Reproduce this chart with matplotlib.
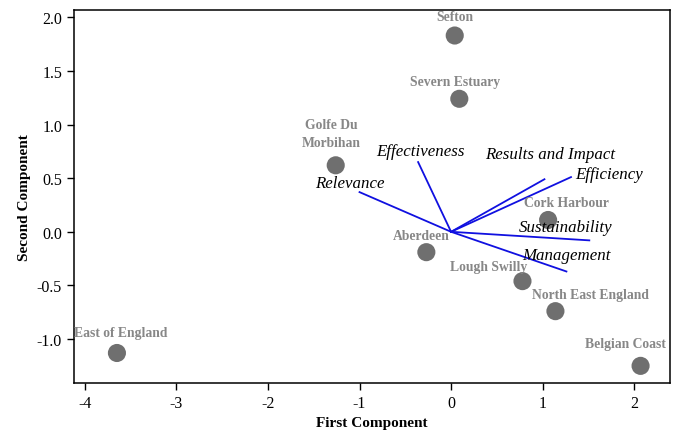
import numpy as np
import matplotlib
matplotlib.use("Agg")
import matplotlib.pyplot as plt

# Site scores (first and second component)
sites = ["Sefton", "Severn Estuary", "Golfe Du\nMorbihan", "Cork Harbour", "Aberdeen",
         "Lough Swilly", "North East England", "Belgian Coast", "East of England"]
pc1 = [0.04, 0.09, -1.26, 1.06, -0.27, 0.78, 1.14, 2.07, -3.65]
pc2 = [1.83, 1.24, 0.62, 0.11, -0.19, -0.46, -0.74, -1.25, -1.13]

# Criteria loadings (vectors from origin)
criteria = ["Relevance", "Effectiveness", "Results and Impact", "Efficiency",
            "Sustainability", "Management"]
load1 = [-1.00, -0.36, 1.02, 1.31, 1.51, 1.26]
load2 = [0.37, 0.65, 0.49, 0.51, -0.08, -0.37]

# label offsets in pixels (text position relative to the mark)
site_off = [(0, 19), (-4, 17), (-4, 32), (18, 17), (-5, 17),
            (-34, 15), (35, 17), (-15, 22), (4, 20)]
crit_off = [(-10, 9, "center"), (2, 11, "center"), (6, 25, "center"), (4, 3, "left"),
            (-24, 13, "center"), (0, 16, "center")]

plt.rcParams["font.family"] = ["Liberation Serif", "DejaVu Serif"]

fig = plt.figure(figsize=(6.78, 4.31), dpi=100)
ax = fig.add_axes([0.109, 0.109, 0.879, 0.866])

for x, y in zip(load1, load2):
    ax.plot([0, x], [0, y], color="#1010e0", lw=1.3, zorder=2)

ax.scatter(pc1, pc2, s=170, color="#6f6f6f", zorder=3, edgecolors="none")

for name, x, y, (dx, dy) in zip(sites, pc1, pc2, site_off):
    ax.annotate(name, (x, y), xytext=(dx, dy), textcoords="offset pixels",
                ha="center", va="center", fontsize=9.8, fontweight="bold",
                color="#878787", linespacing=1.55)

for name, x, y, (dx, dy, ha) in zip(criteria, load1, load2, crit_off):
    ax.annotate(name, (x, y), xytext=(dx, dy), textcoords="offset pixels",
                ha=ha, va="center", fontsize=12.2, fontstyle="italic", color="black")

ax.set_xlim(-4.12, 2.39)
ax.set_ylim(-1.41, 2.07)
ax.set_xticks([-4, -3, -2, -1, 0, 1, 2])
ax.set_xticklabels(["-4", "-3", "-2", "-1", "0", "1", "2"])
ax.set_yticks([-1.0, -0.5, 0.0, 0.5, 1.0, 1.5, 2.0])
ax.set_yticklabels(["-1.0", "-0.5", "0.0", "0.5", "1.0", "1.5", "2.0"])
ax.tick_params(direction="out", length=5, width=1, labelsize=11.5, top=False, right=False)

ax.set_xlabel("First Component", fontsize=11, fontweight="bold")
ax.set_ylabel("Second Component", fontsize=11, fontweight="bold")

for sp in ax.spines.values():
    sp.set_linewidth(1.1)

fig.savefig("out.png", dpi=100)
